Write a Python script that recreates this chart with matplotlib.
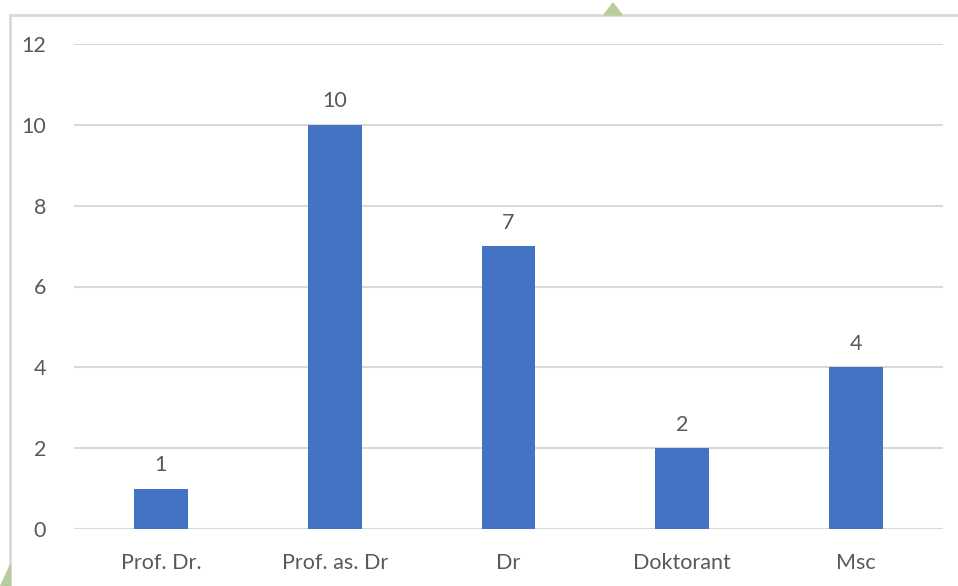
import matplotlib.pyplot as plt
from matplotlib.patches import Rectangle, Polygon

# Data
categories = ["Prof. Dr.", "Prof. as. Dr", "Dr", "Doktorant", "Msc"]
counts = [1, 10, 7, 2, 4]
yticks = [0, 2, 4, 6, 8, 10, 12]

plt.rcParams['font.family'] = ['Lato', 'DejaVu Sans']
text_color = "#595959"
bar_color = "#4472c4"
grid_color = "#d9d9d9"

fig = plt.figure(figsize=(9.58, 5.86), dpi=100)
ax = fig.add_axes([74 / 958, 57 / 586, 869 / 958, 485 / 586])

x = list(range(len(categories)))
ax.bar(x, counts, width=0.31, color=bar_color, zorder=3)

for xi, v in zip(x, counts):
    ax.text(xi, v + 0.33, str(v), ha="center", va="bottom",
            fontsize=15.5, color=text_color)

ax.set_xlim(-0.5, len(categories) - 0.5)
ax.set_ylim(0, 12)
ax.set_yticks(yticks)
ax.set_xticks(x)
ax.set_xticklabels(categories)
ax.tick_params(axis="both", length=0, labelsize=15.5, colors=text_color)
ax.tick_params(axis="y", pad=20)
ax.tick_params(axis="x", pad=17)
ax.grid(axis="y", color=grid_color, linewidth=1.5, zorder=0)
for s in ax.spines.values():
    s.set_visible(False)

# chart frame (right and bottom edges run off the picture)
fig.patches.append(Rectangle((10 / 958, -0.05), 1.0, 1.05 - 15 / 586,
                             transform=fig.transFigure, fill=False,
                             edgecolor=grid_color, linewidth=2))

# green page decorations
fig.patches.append(Polygon([(604 / 958, 1 - 15 / 586), (622 / 958, 1 - 15 / 586),
                            (613 / 958, 1 - 3 / 586)], closed=True,
                           transform=fig.transFigure, color="#b9cc9b"))
fig.patches.append(Polygon([(0, 0), (10 / 958, 0), (10 / 958, 22 / 586)], closed=True,
                           transform=fig.transFigure, color="#b9cc9b"))

fig.savefig("out.png", dpi=100)
